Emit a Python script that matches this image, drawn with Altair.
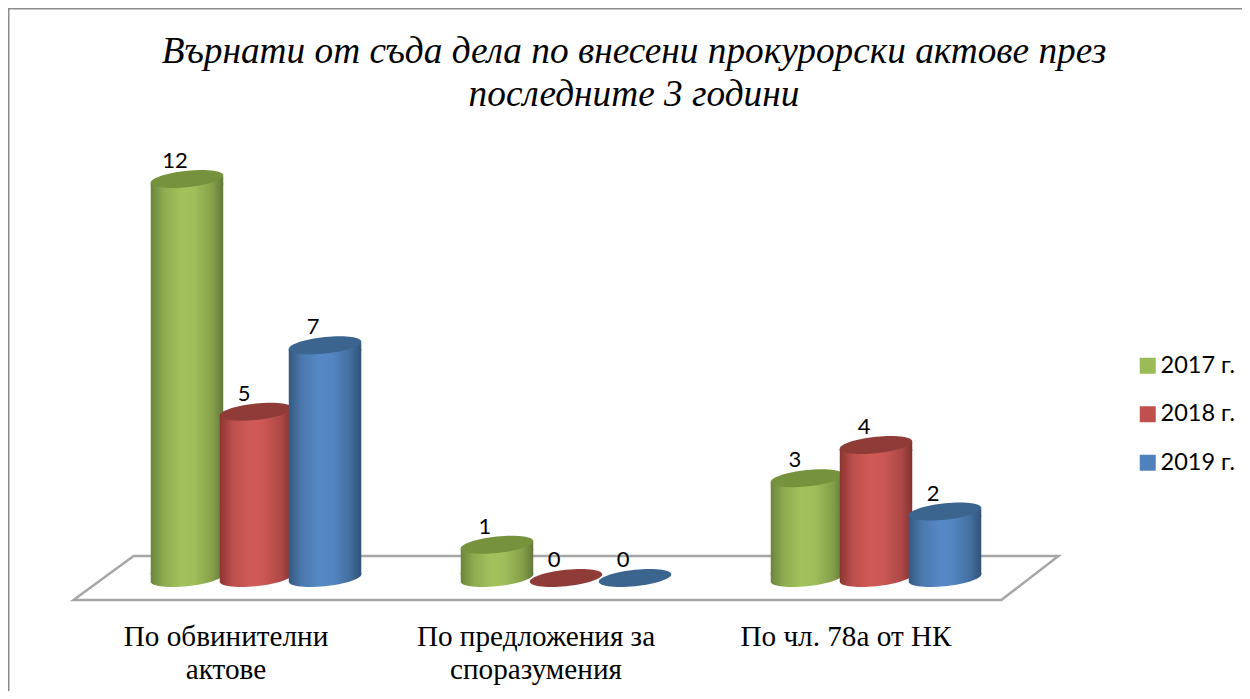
import math
import altair as alt
import pandas as pd

categories = ["По обвинителни\nактове", "По предложения за\nспоразумения", "По чл. 78а от НК"]
years = ["2017 г.", "2018 г.", "2019 г."]
values_2017 = [12, 1, 3]
values_2018 = [5, 0, 4]
values_2019 = [7, 0, 2]
title_lines = ["Върнати от съда дела по внесени прокурорски актове през", "последните 3 години"]

legend_colors = ["#9bbb59", "#c0504d", "#4f81bd"]
top_colors = ["#76923c", "#8f3b38", "#3b648f"]
stops = [
    ["#6b853b", "#8fab50", "#a3c25d", "#a0bf5b", "#86a04a", "#62793a"],
    ["#8c3533", "#bc4f4c", "#d05a57", "#cc5855", "#ad4845", "#813230"],
    ["#34597f", "#4a78ad", "#5688c6", "#5386c2", "#446e9f", "#305378"],
]
offsets = [0, 0.18, 0.42, 0.6, 0.85, 1]

rows = []
for y, vals in zip(years, [values_2017, values_2018, values_2019]):
    for c, v in zip(categories, vals):
        rows.append({"cat": c, "year": y, "value": v})
df = pd.DataFrame(rows)


def ellipse():
    pts = []
    for i in range(60):
        t = 2 * math.pi * i / 60
        pts.append((math.cos(t), 0.225 * math.sin(t) - 0.10 * math.cos(t)))
    return "M" + " L".join(f"{x:.4f},{y:.4f}" for x, y in pts) + " Z"


ELL = ellipse()
TOP_CAP = "M-1,0.1 L1,-0.1 L1,0.16 L-1,0.16 Z"
BOTTOM = ELL + " M-1,-0.16 L1,-0.16 L1,-0.1 L-1,0.1 Z"
FLOOR = "M-1,0.0447 L-0.878,-0.0447 L1,-0.0447 L0.884,0.0447 Z"

CYL = 72.5
x_enc = alt.X(
    "cat:N",
    sort=categories,
    scale=alt.Scale(domain=categories, paddingInner=0, paddingOuter=0),
    axis=alt.Axis(
        title=None, domain=False, ticks=False, labelAngle=0, grid=False,
        labelExpr="split(datum.label, '\\n')",
        labelFont="Liberation Serif", labelFontSize=29.2, labelColor="#000000",
        labelPadding=44, labelOffset=-30, labelLineHeight=33,
        labelLimit=400, labelBaseline="top",
    ),
)
xo = alt.XOffset("year:N", sort=years,
                 scale=alt.Scale(domain=years, paddingInner=0, paddingOuter=0.746))
y_enc = alt.Y("value:Q", scale=alt.Scale(domain=[0, 14], nice=False), axis=None)
y0 = alt.YDatum(0, scale=alt.Scale(domain=[0, 14], nice=False), axis=None)

base = alt.Chart(df)
layers = []

# outer frame
layers.append(
    base.mark_rect(fill="#ffffff", fillOpacity=0, stroke="#8c8c8c", strokeWidth=2).encode(
        x=alt.value(-92.5), x2=alt.value(1300), y=alt.value(-104), y2=alt.value(700)
    ).transform_filter(alt.datum.cat == categories[1]).transform_filter(alt.datum.year == years[0])
)
# floor
layers.append(
    base.mark_point(shape=FLOOR, filled=False, stroke="#a6a6a6", strokeWidth=2.5,
                    size=985 ** 2, opacity=1).encode(x=x_enc, y=y0)
    .transform_filter(alt.datum.cat == categories[1]).transform_filter(alt.datum.year == years[1])
)

for i, yr in enumerate(years):
    grad = alt.LinearGradient(
        gradient="linear", x1=0, y1=0, x2=1, y2=0,
        stops=[alt.GradientStop(offset=o, color=c) for o, c in zip(offsets, stops[i])],
    )
    d = base.transform_filter(alt.datum.year == yr)
    pos = d.transform_filter(alt.datum.value > 0)
    layers.append(
        pos.mark_point(shape=BOTTOM, filled=True, fill=grad, size=CYL ** 2, opacity=1, strokeWidth=0)
        .encode(x=x_enc, xOffset=xo, y=y0)
    )
    layers.append(
        pos.mark_bar(width=CYL, fill=grad, yOffset=4, y2Offset=-3)
        .encode(x=x_enc, xOffset=xo, y=y_enc, y2=alt.Y2(datum=0))
    )
    layers.append(
        pos.mark_point(shape=TOP_CAP, filled=True, fill=grad, size=CYL ** 2, opacity=1, strokeWidth=0)
        .encode(x=x_enc, xOffset=xo, y=y_enc)
    )
    layers.append(
        d.mark_point(shape=ELL, filled=True, fill=top_colors[i], size=CYL ** 2, opacity=1, strokeWidth=0)
        .encode(x=x_enc, xOffset=xo, y=y_enc)
    )

# data labels
layers.append(
    base.mark_text(font="Lato", fontSize=22, color="#000000", dx=-12, dy=-18).encode(
        x=x_enc, xOffset=xo, y=y_enc, text="value:Q"
    )
)
# legend carrier
layers.append(
    base.mark_square(opacity=0, size=256).encode(
        x=x_enc, xOffset=xo, y=y0,
        color=alt.Color(
            "year:N", sort=years,
            scale=alt.Scale(domain=years, range=legend_colors),
            legend=alt.Legend(
                title=None, orient="none", legendX=1035, legendY=241.5,
                symbolType="square", symbolSize=256, symbolOpacity=1, symbolStrokeWidth=0,
                labelFont="Lato", labelFontSize=23.5, labelColor="#000000",
                rowPadding=23.5, labelOffset=1, padding=0,
            ),
        ),
    )
)

chart = (
    alt.layer(*layers)
    .properties(
        width=930, height=465.5,
        padding={"left": 93, "top": 104.5, "right": 211, "bottom": 113},
        autosize=alt.AutoSizeParams(type="none"),
        background="#ffffff",
        title=alt.TitleParams(
            text=title_lines, font="Liberation Serif", fontStyle="italic", fontSize=37.3,
            fontWeight="normal", color="#000000", anchor="middle", frame="group",
            dx=68, dy=115, offset=8, lineHeight=43,
        ),
    )
    .configure_view(stroke=None)
)
chart.save("out.html", embed_options={"renderer": "svg", "actions": False})
